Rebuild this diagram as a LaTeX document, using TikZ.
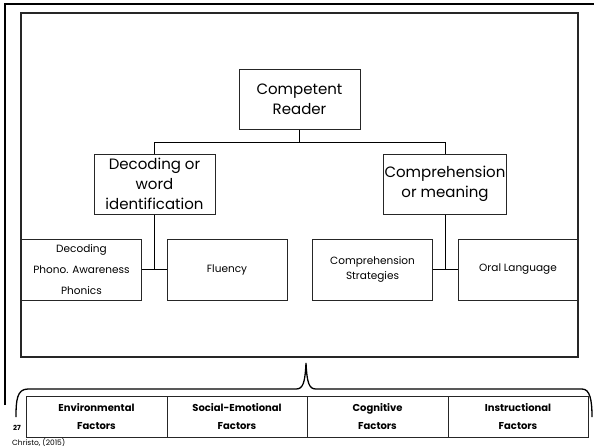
\documentclass[tikz,border=0pt]{standalone}
\usepackage{fontspec}
\setmainfont{Poppins}
\usepackage{tikz}
\newcommand{\drawFactor}[4]{
    \node[factor,minimum width=#3] (#1) at (#2,416.5) {#4}
}

\begin{document}
\begin{tikzpicture}[x=1pt,y=-1pt,
        box/.style={draw=black!85,line width=1pt,align=center,inner sep=1pt},
        bigbox/.style={box,minimum width=121pt,minimum height=60pt,font=\fontsize{15}{20}\selectfont},
        smallbox/.style={box,minimum width=120pt,minimum height=61pt,font=\fontsize{10.5}{15}\selectfont},
        factor/.style={draw=black!85,line width=0.9pt,minimum height=41pt,align=center,inner sep=1pt,font=\bfseries\fontsize{10}{18}\selectfont}]
            \useasboundingbox (0,0) rectangle (594,445);
            \draw[line width=2pt] (5,405) -- (5,4) -- (594,4);
            \draw[line width=1.6pt,black!85] (21,13) rectangle (578,357);

            \node[bigbox] (cr) at (299.5,99) {Competent\\Reader};
            \node[bigbox] (dec) at (154.5,184) {Decoding or\\word\\identification};
            \node[bigbox] (comp) at (445,184) {Comprehension\\or meaning};

            \node[smallbox,font=\fontsize{10.5}{21}\selectfont] (dpp) at (81.5,269.5) {Decoding\\Phono. Awareness\\Phonics};
            \node[smallbox] (flu) at (227,269.5) {Fluency};
            \node[smallbox] (cst) at (372.5,269.5) {Comprehension\\Strategies};
            \node[smallbox] (oral) at (518,269.5) {Oral Language};

            \draw[line width=1.5pt] (cr.south) -- ++(0,13) coordinate (crj);
            \draw[line width=1pt] (dec.north) |- (crj) -| (comp.north);
            \draw[line width=1pt] (dec.south) -- (dec.south |- dpp.east);
            \draw[line width=1pt] (dpp.east) -- (flu.west);
            \draw[line width=1pt] (comp.south) -- (comp.south |- cst.east);
            \draw[line width=1pt] (cst.east) -- (oral.west);

            \draw[line width=1.3pt] (16,417) .. controls (16,400) and (17,389) .. (28,389) -- (296,389) .. controls (303,389) and (305,383) .. (306,363) .. controls (307,383) and (309,389) .. (316,389) -- (582,389) .. controls (590,389) and (592,400) .. (592,417);

            \drawFactor{env}{96.5}{141pt}{Environmental\\Factors};
            \drawFactor{soc}{237}{140pt}{Social-Emotional\\Factors};
            \drawFactor{cog}{377.5}{141pt}{Cognitive\\Factors};
            \drawFactor{ins}{518}{140pt}{Instructional\\Factors};

            \node[font=\bfseries\fontsize{7}{8}\selectfont,inner sep=0pt] (pg) at (17,428) {27};
            \node[anchor=north west,font=\fontsize{7.5}{9}\selectfont,inner sep=0pt] (src) at (12,438.5) {Christo, (2015)};
        \end{tikzpicture}
\end{document}
